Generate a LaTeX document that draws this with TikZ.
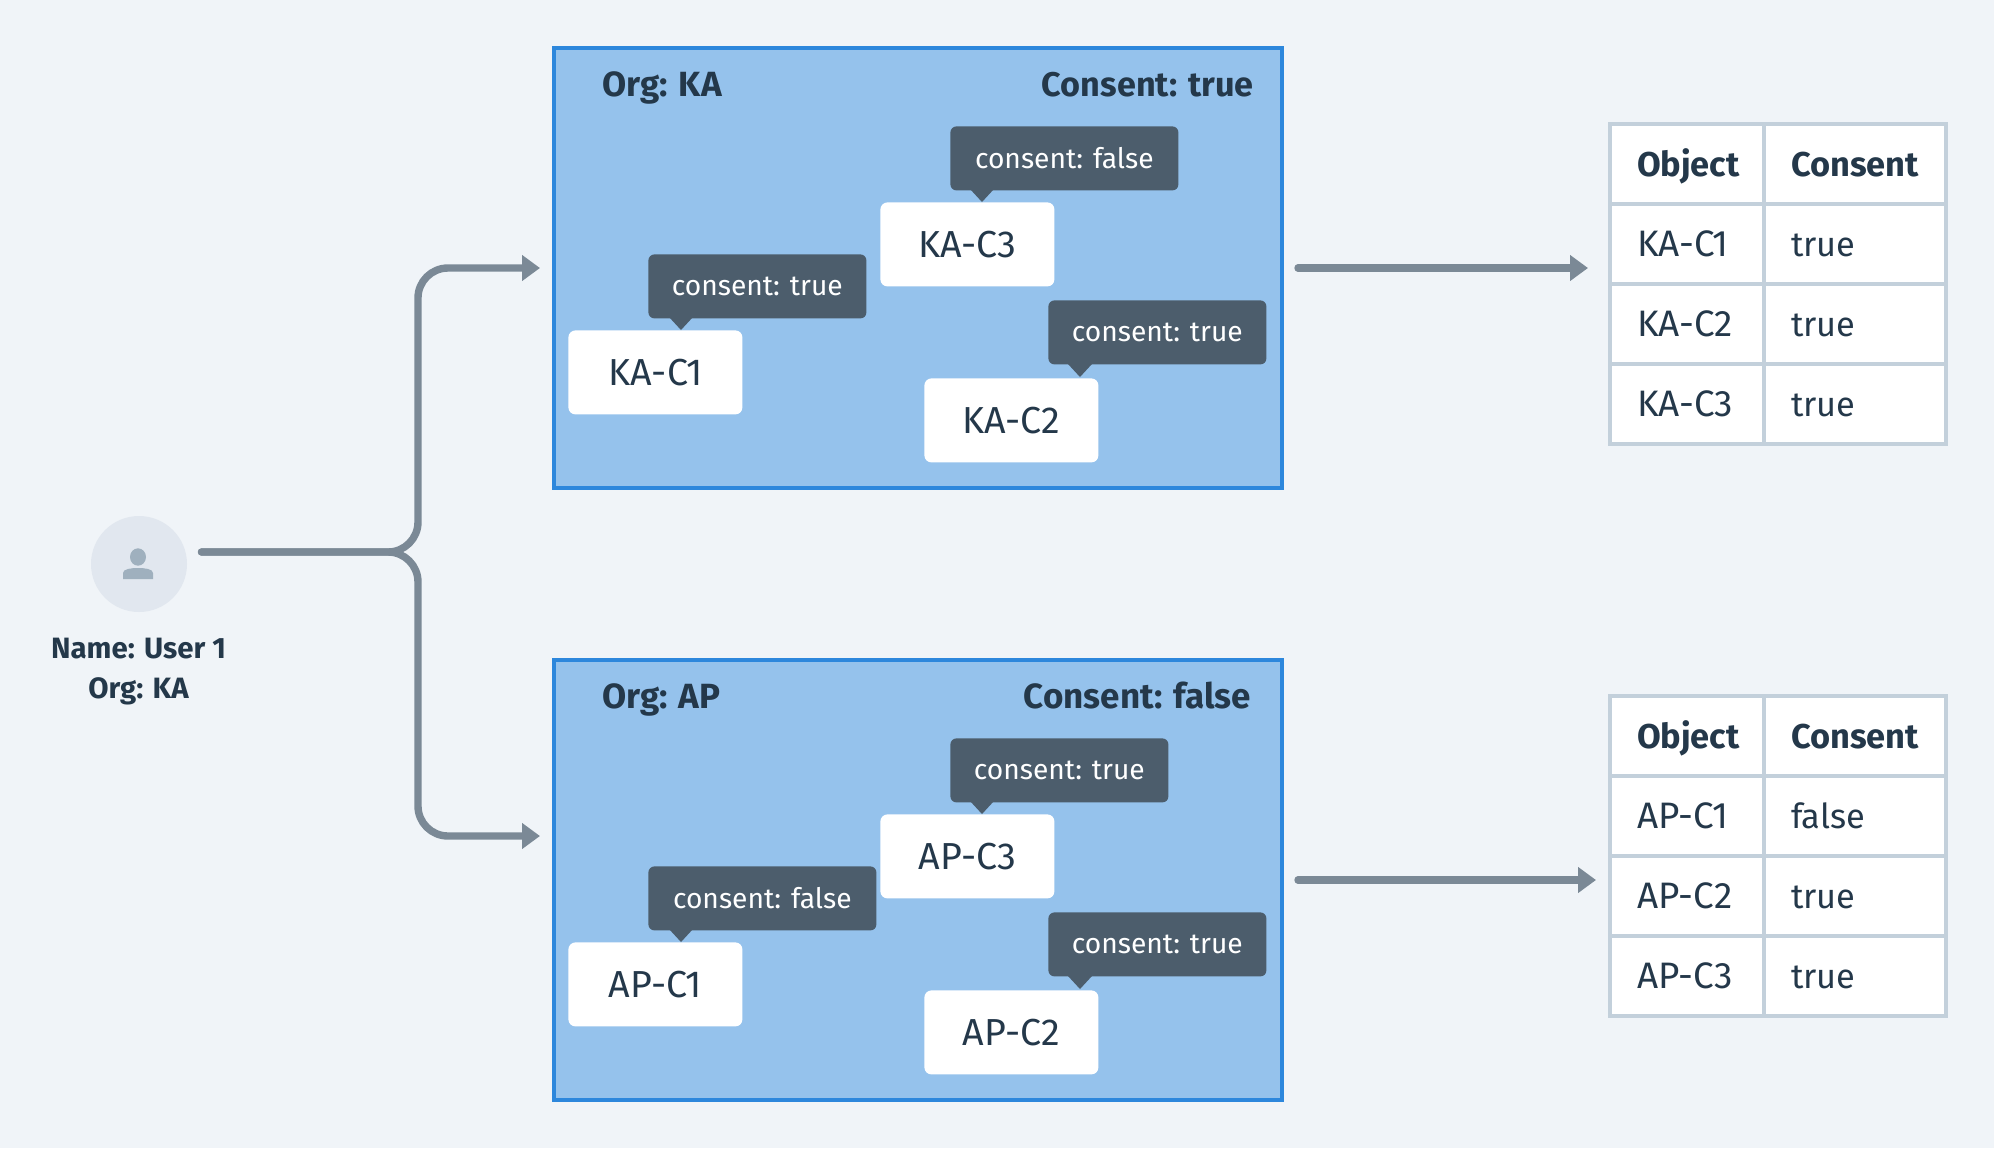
\documentclass[tikz,border=0pt]{standalone}
\usepackage{fontspec}
\setmainfont{Fira Sans}
\usetikzlibrary{arrows.meta}
\definecolor{pagefill}{HTML}{F0F4F8}
\definecolor{orgfill}{HTML}{95C2EC}
\definecolor{orgline}{HTML}{2D87DC}
\definecolor{tipfill}{HTML}{4C5D6C}
\definecolor{inktext}{HTML}{24384A}
\definecolor{flowline}{HTML}{7B8996}
\definecolor{cellline}{HTML}{C3D0DB}
\definecolor{userfill}{HTML}{E1E7EF}
\definecolor{usermark}{HTML}{9FB0BE}
\tikzset{
	orgbox/.style={draw=orgline, fill=orgfill, line width=2pt, minimum width=364pt, minimum height=220pt, outer sep=0pt},
	headtext/.style={font=\fontsize{17.5}{20}\selectfont\bfseries, text=inktext, inner sep=0pt},
	clientbox/.style={fill=white, rounded corners=3.5pt, anchor=north west, minimum width=87pt, minimum height=42pt, inner sep=0pt, font=\fontsize{18.8}{20}\selectfont, text=inktext},
	tipbox/.style={fill=tipfill, rounded corners=3pt, anchor=north west, minimum height=32pt, inner sep=0pt, font=\fontsize{14.1}{16}\selectfont, text=white},
	tiptrue/.style={tipbox, minimum width=109pt},
	tipfalse/.style={tipbox, minimum width=114pt},
	cell/.style={draw=cellline, fill=white, line width=2pt, minimum height=40pt, inner xsep=0pt, outer sep=0pt, text height=12.8pt, text depth=0pt, align=left, text=inktext, font=\fontsize{17.2}{20}\selectfont, execute at begin node={\hspace*{13.5pt}}},
	objcell/.style={cell, text width=77pt, font=\fontsize{18.4}{20}\selectfont},
	valcell/.style={cell, text width=91pt},
	headcell/.style={font=\fontsize{17.2}{20}\selectfont\bfseries},
	flow/.style={line width=3.7pt, line cap=round, color=flowline, -{Triangle[length=9pt,width=12.5pt]}},
}
\def\tipmark(#1,#2){\fill[tipfill] (#1-12,#2-13) -- (#1,#2) -- (#1+12,#2-13) -- cycle;}

\begin{document}
\begin{tikzpicture}[x=0.5pt, y=-0.5pt]
	%%%%% START %%%%%
	
	\fill[pagefill] (0, 0) rectangle (1994, 1148);
	
	\node[circle, fill=userfill, minimum size=48pt, inner sep=0pt] (userPic) at (139, 564) {};
	\fill[usermark] (138, 557) ellipse (8 and 8.7);
	\fill[usermark] (123, 579) -- (123, 573) .. controls (123, 569) and (131, 568) .. (138, 568) .. controls (145, 568) and (153, 569) .. (153, 573) -- (153, 579) -- cycle;
	\node[anchor=north, align=center, inner sep=0pt, text=inktext, font=\fontsize{14.7}{20}\selectfont\bfseries] (userLabel) at (138.5, 638) {Name: User 1\\Org: KA};
	
	% upper organisation
	\node[orgbox] (boxKA) at (918, 268) {};
	\node[headtext, anchor=base west] (orgKA) at (602, 96) {Org: KA};
	\node[headtext, anchor=base east, font=\fontsize{17.1}{20}\selectfont\bfseries] (consentKA) at (1254, 96) {Consent: true};
	
	\node[clientbox] (clientKAa) at (568, 330) {KA-C1};
	\node[clientbox] (clientKAb) at (924, 378) {KA-C2};
	\node[clientbox] (clientKAc) at (880, 202) {KA-C3};
	
	\node[tiptrue] (tipKAa) at (648, 254) {consent: true};
	\tipmark(681,330)
	\node[tiptrue] (tipKAb) at (1048, 300) {consent: true};
	\tipmark(1080,377)
	\node[tipfalse] (tipKAc) at (950, 126) {consent: false};
	\tipmark(982,202)
	
	% lower organisation
	\node[orgbox] (boxAP) at (918, 880) {};
	\node[headtext, anchor=base west] (orgAP) at (602, 708) {Org: AP};
	\node[headtext, anchor=base east] (consentAP) at (1251, 708) {Consent: false};
	
	\node[clientbox] (clientAPa) at (568, 942) {AP-C1};
	\node[clientbox] (clientAPb) at (924, 990) {AP-C2};
	\node[clientbox] (clientAPc) at (880, 814) {AP-C3};
	
	\node[tipfalse] (tipAPa) at (648, 866) {consent: false};
	\tipmark(681,942)
	\node[tiptrue] (tipAPb) at (1048, 912) {consent: true};
	\tipmark(1080,989)
	\node[tiptrue] (tipAPc) at (950, 738) {consent: true};
	\tipmark(982,814)
	
	% upper table
	\node[objcell, headcell] (headKAa) at (1687, 164) {Object};
	\node[valcell, headcell] (headKAb) at (1855, 164) {Consent};
	\node[objcell] (rowKAa) at (1687, 244) {KA-C1};
	\node[valcell] (valKAa) at (1855, 244) {true};
	\node[objcell] (rowKAb) at (1687, 324) {KA-C2};
	\node[valcell] (valKAb) at (1855, 324) {true};
	\node[objcell] (rowKAc) at (1687, 404) {KA-C3};
	\node[valcell] (valKAc) at (1855, 404) {true};
	
	% lower table
	\node[objcell, headcell] (headAPa) at (1687, 736) {Object};
	\node[valcell, headcell] (headAPb) at (1855, 736) {Consent};
	\node[objcell] (rowAPa) at (1687, 816) {AP-C1};
	\node[valcell] (valAPa) at (1855, 816) {false};
	\node[objcell] (rowAPb) at (1687, 896) {AP-C2};
	\node[valcell] (valAPb) at (1855, 896) {true};
	\node[objcell] (rowAPc) at (1687, 976) {AP-C3};
	\node[valcell] (valAPc) at (1855, 976) {true};
	
	% connectors
	\coordinate (userOut) at (201.5, 552);
	\coordinate (fork) at (418, 552);
	\coordinate (inKA) at (540, 268);
	\coordinate (inAP) at (540, 836);
	\coordinate (resultKA) at (1588, 268);
	\coordinate (resultAP) at (1596, 880);
	
	\draw[flow, rounded corners=15pt] (userOut) -- (fork) -- (fork |- inKA) -- (inKA);
	\draw[flow, rounded corners=15pt] (userOut) -- (fork) -- (fork |- inAP) -- (inAP);
	\draw[flow] ([xshift=8pt]boxKA.east) -- (resultKA);
	\draw[flow] ([xshift=8pt]boxAP.east) -- (resultAP);
	
	%%%%% END %%%%%
\end{tikzpicture}
\end{document}
